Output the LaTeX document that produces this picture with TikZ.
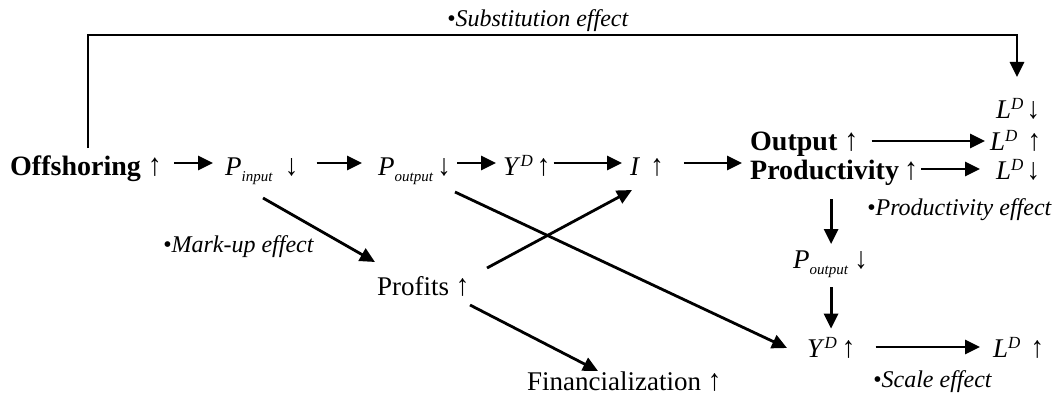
\documentclass[tikz,border=0pt]{standalone}
\usepackage{fontspec}
\usepackage{graphicx}
\setmainfont{Liberation Serif}
\usetikzlibrary{arrows.meta}
\newcommand\VSub[2]{\textit{#1}\raisebox{-6pt}{\fontsize{15}{15}\selectfont\textit{#2}}}
\newcommand\VSup[2]{\textit{#1}\raisebox{9pt}{\fontsize{17}{17}\selectfont\textit{#2}}}
\newcommand\UA{\scalebox{1}[1.12]{↑}}
\newcommand\DA{\scalebox{1}[1.12]{↓}}
\begin{document}
\begin{tikzpicture}[x=1pt,y=-1pt,
  lbl/.style={anchor=base west, inner sep=0pt, font=\fontsize{27}{30}\selectfont},
  bld/.style={anchor=base west, inner sep=0pt, font=\fontsize{28}{32}\selectfont\bfseries},
  eff/.style={anchor=base west, inner sep=0pt, font=\fontsize{24}{28}\selectfont\itshape},
  arr/.style={line width=2.8pt, -{Triangle[length=15pt,width=14pt]}}]
\useasboundingbox (0,0) rectangle (1060,404);
% nodes
\node[bld] (off) at (10,175) {Offshoring \UA};
\node[lbl] (pin) at (225,175) {\VSub{P}{input}\hspace{12pt}\DA};
\node[lbl] (pout) at (378,175) {\VSub{P}{output}\hspace{4pt}\DA};
\node[lbl] (yd) at (503,175) {\VSup{Y}{D}\hspace{4pt}\UA};
\node[lbl] (inv) at (630,175) {\textit{I}\hspace{10pt}\UA};
\node[bld] (outp) at (750,150) {Output \UA};
\node[bld] (prod) at (750,179) {Productivity\hspace{5pt}\UA};
\node[lbl] (l1) at (996,118) {\VSup{L}{D}\hspace{3pt}\DA};
\node[lbl] (l2) at (990,150) {\VSup{L}{D}\hspace{10pt}\UA};
\node[lbl] (l3) at (996,179) {\VSup{L}{D}\hspace{3pt}\DA};
\node[eff] (peff) at (867,215) {•Productivity effect};
\node[lbl] (pout2) at (793,268) {\VSub{P}{output}\hspace{6pt}\DA};
\node[lbl] (yd2) at (807,357) {\VSup{Y}{D}\hspace{5pt}\UA};
\node[lbl] (l4) at (993,357) {\VSup{L}{D}\hspace{10pt}\UA};
\node[eff] (seff) at (873,387) {•Scale effect};
\node[lbl] (prof) at (377,295) {Profits \UA};
\node[lbl] (fin) at (527,390) {Financialization \UA};
\node[eff] (meff) at (163,252) {•Mark-up effect};
\node[eff] (subeff) at (447,27) {•Substitution effect};
% main row
\draw[arr] ([shift={(12,-12)}]off.base east) -- ([shift={(-12,-12)}]pin.base west);
\draw[arr] ([shift={(18,-12)}]pin.base east) -- ([shift={(-16,-12)}]pout.base west);
\draw[arr] ([shift={(6,-12)}]pout.base east) -- ([shift={(-7,-12)}]yd.base west);
\draw[arr] ([shift={(3,-12)}]yd.base east) -- ([shift={(-8,-12)}]inv.base west);
\draw[arr] ([shift={(20,-12)}]inv.base east) -- ([shift={(-8,13)}]outp.base west);
\draw[arr] ([shift={(13,-9)}]outp.base east) -- ([shift={(-5,-9)}]l2.base west);
\draw[arr] ([shift={(3,-10)}]prod.base east) -- ([shift={(-16,-10)}]l3.base west);
\draw[arr] ([shift={(20,-10)}]yd2.base east) -- ([shift={(-13,-10)}]l4.base west);
% vertical
\coordinate (v1) at ([xshift=-3pt]prod.south);
\draw[arr, shorten <=14pt, shorten >=6pt] (v1) -- (v1 |- pout2.north);
\draw[arr, shorten <=10pt, shorten >=8pt] (v1 |- pout2.south) -- (v1 |- yd2.north);
% diagonals
\draw[arr] ([shift={(38,23)}]pin.base west) -- ([shift={(-2,-33)}]prof.base west);
\draw[arr] ([shift={(77,17)}]pout.base west) -- ([shift={(-20,-9)}]yd2.base west);
\draw[arr] ([shift={(110,-27)}]prof.base west) -- ([shift={(2,15)}]inv.base west);
\draw[arr] ([shift={(93,10)}]prof.base west) -- ([shift={(71,-19)}]fin.base west);
% substitution
\coordinate (s0) at ([shift={(78,-27)}]off.base west);
\coordinate (s1) at ([shift={(21,-41)}]l1.base west);
\coordinate (st) at (500,35);
\draw[arr] (s0) |- (st) -| (s1);
\end{tikzpicture}
\end{document}
